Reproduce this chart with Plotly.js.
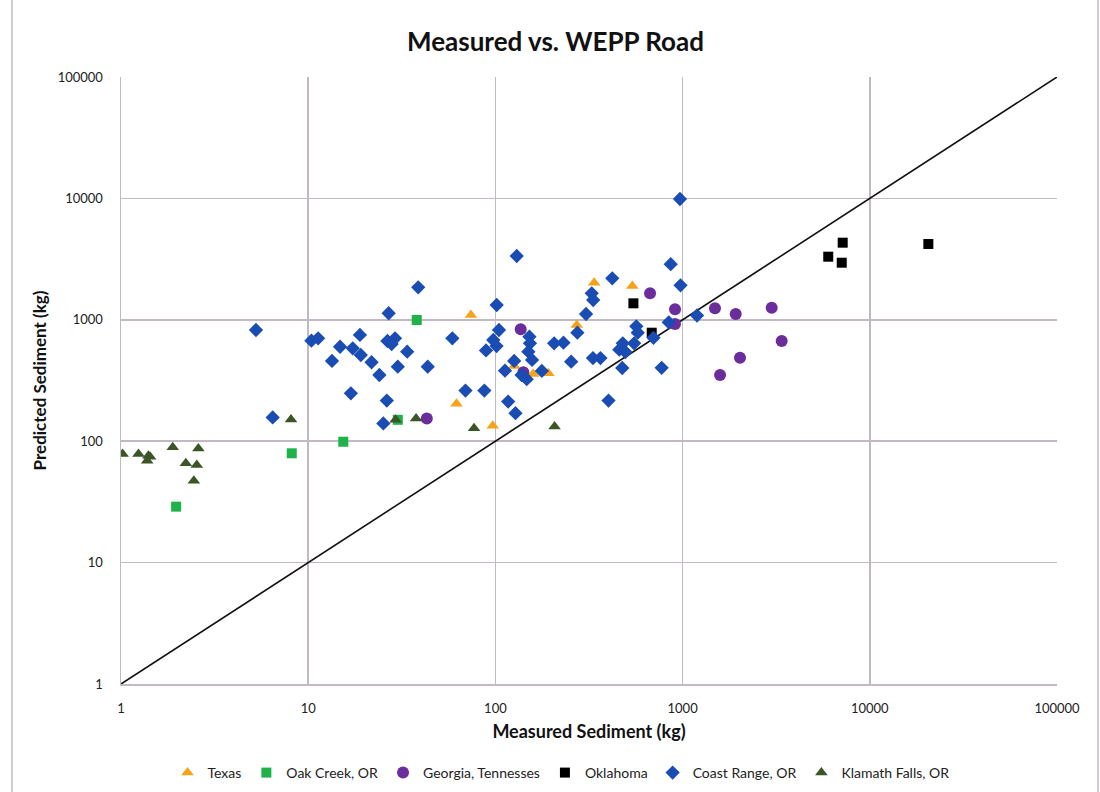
<!DOCTYPE html>
<html>
<head>
<meta charset="utf-8">
<script src="https://cdn.plot.ly/plotly-3.0.1.min.js"></script>
<style>html,body{margin:0;padding:0;background:#fff;}#chart{width:1100px;height:792px;}</style>
</head>
<body>
<div id="chart"></div>
<script>
// ---- Data ----
const tickVals = [1, 10, 100, 1000, 10000, 100000];
const tickLabels = ["1", "10", "100", "1000", "10000", "100000"];

const seriesNames = ["Texas", "Oak Creek, OR", "Georgia, Tennesses", "Oklahoma", "Coast Range, OR", "Klamath Falls, OR"];

const texasX = [74, 62, 96.8, 337, 539, 272, 126, 159, 192];
const texasY = [1096, 203, 134, 2023, 1898, 906, 416, 358, 362];

const oakX = [8.17, 1.97, 15.4, 30.1, 38];
const oakY = [79.5, 28.9, 99, 150, 996];

const georgiaX = [43, 136.5, 141, 670, 911, 911, 1489, 1922, 2992, 3384, 2026, 1585];
const georgiaY = [154, 835, 370, 1652, 1221, 923, 1244, 1116, 1259, 669, 487, 351];

const oklaX = [546, 684, 7165, 5998, 7080, 20550];
const oklaY = [1367, 783, 4318, 3311, 2953, 4211];

const coastX = [5.26, 6.46, 10.4, 11.3, 13.4, 38.7, 26.9, 18.9, 14.8, 17.3, 19.1, 21.8, 26.5, 29.1, 27.9, 33.8, 30.1, 43.5, 24.0, 16.9, 26.3, 25.2, 58.9, 69.2, 87.3, 101.6, 104.5, 97.4, 101.4, 89.1, 130, 152, 153, 150, 157, 126, 112.5, 138, 147, 177, 206, 231, 274, 254, 117, 128, 332, 364, 305, 327, 333, 421, 864, 975, 402, 476, 773, 459, 479, 495, 551, 566, 576, 699, 844, 968, 1194];
const coastY = [824, 157, 673, 704, 458, 1853, 1132, 750, 600, 582, 513, 447, 669, 704, 632, 546, 411, 411, 351, 248, 216, 140, 704, 261, 261, 1324, 824, 682, 608, 559, 3355, 726, 640, 546, 467, 458, 381, 351, 324, 379, 640, 648, 783, 452, 212, 170, 484, 484, 1116, 1652, 1456, 2197, 2871, 1924, 216, 401, 402, 567, 640, 543, 640, 884, 783, 711, 954, 9886, 1085];

const klamathX = [1.02, 1.24, 1.40, 1.38, 1.43, 1.89, 2.59, 2.22, 2.54, 2.45, 8.09, 29.3, 37.7, 76.9, 207];
const klamathY = [78.5, 78.5, 76, 69, 74.5, 89, 87, 65.8, 63.7, 47.3, 151, 150, 154, 128, 132];

const lineX = [1, 100000];
const lineY = [1, 100000];

// ---- Styles ----
const FONT = "Lato, 'Open Sans', sans-serif";
const GRID = "#c3b9c3";

const traces = [
  {x: lineX, y: lineY, mode: "lines", line: {color: "#111", width: 1.6}, showlegend: false, hoverinfo: "skip"},
  {x: texasX, y: texasY, name: seriesNames[0], mode: "markers", marker: {symbol: "triangle-up", size: 11, color: "#f7a21b"}},
  {x: oakX, y: oakY, name: seriesNames[1], mode: "markers", marker: {symbol: "square", size: 10, color: "#1fb24b"}},
  {x: georgiaX, y: georgiaY, name: seriesNames[2], mode: "markers", marker: {symbol: "circle", size: 12, color: "#6b2c9c"}},
  {x: oklaX, y: oklaY, name: seriesNames[3], mode: "markers", marker: {symbol: "square", size: 10, color: "#000000"}},
  {x: coastX, y: coastY, name: seriesNames[4], mode: "markers", marker: {symbol: "diamond", size: 11, color: "#1a4db3"}},
  {x: klamathX, y: klamathY, name: seriesNames[5], mode: "markers", marker: {symbol: "triangle-up", size: 11, color: "#3b5527"}}
];

const layout = {
  width: 1100, height: 792,
  margin: {l: 121, r: 43, t: 77, b: 108},
  paper_bgcolor: "#fff", plot_bgcolor: "#fff",
  font: {family: FONT, size: 13, color: "#222"},
  title: {text: "<b>Measured vs. WEPP Road</b>", font: {family: FONT, size: 26, color: "#111"},
          xref: "container", yref: "container", x: 0.505, y: 0.947, xanchor: "center", yanchor: "middle"},
  xaxis: {
    type: "log", range: [0, 5], tickvals: tickVals, ticktext: tickLabels,
    showgrid: true, gridcolor: GRID, gridwidth: 1.5, zeroline: false,
    showline: true, linecolor: GRID, linewidth: 1.5, mirror: false,
    ticks: "", ticklabelstandoff: 12, tickfont: {family: FONT, size: 13, color: "#222"},
    title: {text: "<b>Measured Sediment (kg)</b>", font: {family: FONT, size: 18, color: "#111"}, standoff: 10}
  },
  yaxis: {
    type: "log", range: [0, 5], tickvals: tickVals, ticktext: tickLabels,
    showgrid: true, gridcolor: GRID, gridwidth: 1.5, zeroline: false,
    showline: true, linecolor: GRID, linewidth: 1.5,
    ticks: "", ticklabelstandoff: 14, tickfont: {family: FONT, size: 13, color: "#222"},
    title: {text: "<b>Predicted Sediment (kg)</b>", font: {family: FONT, size: 17, color: "#111"}, standoff: 6}
  },
  legend: {orientation: "h", xref: "container", x: 0.51, xanchor: "center", yref: "container", y: 0.024, yanchor: "middle",
           font: {family: FONT, size: 14, color: "#222"}, tracegroupgap: 0, traceorder: "normal", itemwidth: 30},
  shapes: [
    {type: "line", xref: "paper", yref: "paper", x0: -0.1165, x1: -0.1165, y0: -0.18, y1: 1.13, line: {color: GRID, width: 1.5}},
    {type: "line", xref: "paper", yref: "paper", x0: 1.0438, x1: 1.0438, y0: -0.18, y1: 1.13, line: {color: GRID, width: 1.5}}
  ],
  showlegend: true
};

Plotly.newPlot("chart", traces, layout, {displayModeBar: false, staticPlot: true});
</script>
</body>
</html>
